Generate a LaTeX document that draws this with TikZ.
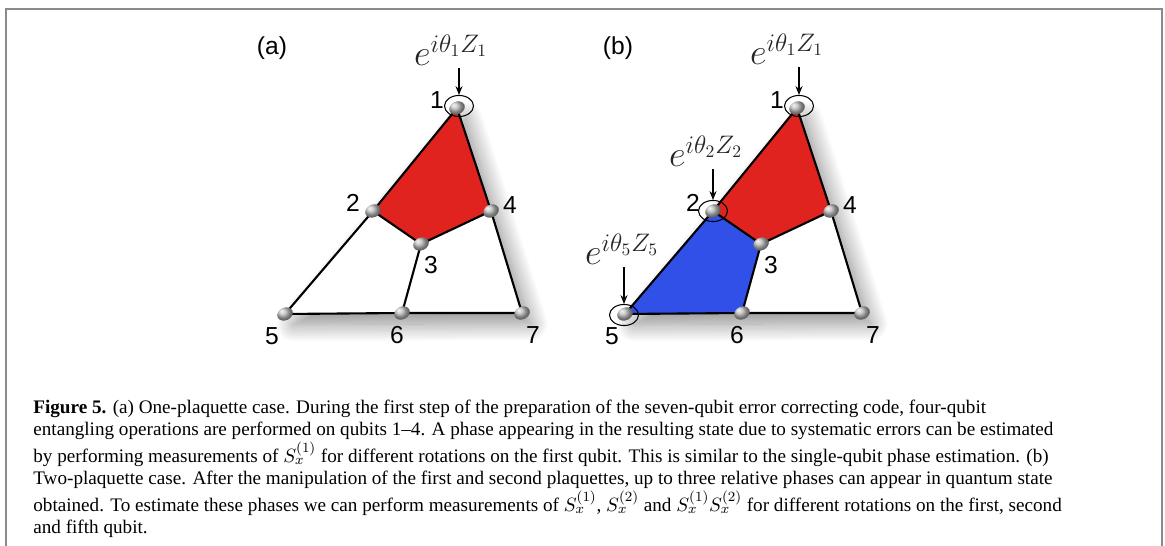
\documentclass[tikz,border=0pt]{standalone}
\usepackage{fontspec}
\setmainfont{Liberation Serif}
\setsansfont{Liberation Sans}
\usepackage{tikz}
\usetikzlibrary{shapes.geometric,arrows.meta,shadows.blur}
\definecolor{plaqred}{HTML}{E0231F}
\definecolor{plaqblue}{HTML}{3050E8}
\definecolor{framegray}{HTML}{8A8A8A}
\pgfdeclarelayer{background}
\pgfsetlayers{background,main}
\newcommand{\capfont}{\fontsize{10.9}{12.6}\selectfont}

\tikzset{
  qubit/.style={ellipse, minimum width=9.2pt, minimum height=7.2pt, inner sep=0pt, shading=ball, ball color=gray!55, rotate=25},
  ring/.style={draw, ellipse, minimum width=16.5pt, minimum height=12pt, inner sep=0pt, line width=0.6pt},
  num/.style={font=\sffamily\fontsize{14}{14}\selectfont, inner sep=0pt},
  phase/.style={font=\fontsize{20.5}{20.5}\selectfont, text=black!85, inner sep=1pt, anchor=south},
  edge/.style={line width=1.2pt, line join=round},
  pointer/.style={-{Stealth[length=5pt,width=4pt]}, line width=0.6pt},
  shade/.style={fill=white, blur shadow={shadow xshift=5pt, shadow yshift=-6pt, shadow blur radius=10pt, shadow blur steps=20, shadow opacity=45}},
}

\begin{document}
\begin{tikzpicture}[x=0.02cm, y=-0.02cm]
  \useasboundingbox (0,0) rectangle (1165,546);

  % Frame (open at the bottom)
  \draw[framegray, line width=1.2pt] (6,546) -- (6,9) -- (1162,9) -- (1162,546);

  % PANEL (a): one plaquette
  \node[num] (tagA) at (272,48) {(a)};
  \node[qubit] (a1) at (457,108) {};
  \node[qubit] (a2) at (373,211) {};
  \node[qubit] (a3) at (421,244) {};
  \node[qubit] (a4) at (491,211) {};
  \node[qubit] (a5) at (285,314) {};
  \node[qubit] (a6) at (402,313) {};
  \node[qubit] (a7) at (522,313) {};
  \node[num] (na1) at (437,100) {1};
  \node[num] (na2) at (353,203) {2};
  \node[num] (na3) at (431,265) {3};
  \node[num] (na4) at (510,205) {4};
  \node[num] (na5) at (272,336) {5};
  \node[num] (na6) at (397,335) {6};
  \node[num] (na7) at (533,335) {7};
  % rotation on qubit 1
  \node[ring] (ringA1) at (459,106) {};
  \node[phase] (phA1) at (451,68) {$e^{i\theta_1 Z_1}$};
  \draw[pointer] (phA1.south -| ringA1.north) -- (ringA1.north);

  \begin{pgfonlayer}{background}
    \path[shade] (a1.center) -- (a7.center) -- (a5.center) -- cycle;
    \fill[plaqred] (a1.center) -- (a2.center) -- (a3.center) -- (a4.center) -- cycle;
    \draw[edge] (a1.center) -- (a4.center) -- (a7.center) -- (a6.center) -- (a5.center) -- (a2.center) -- cycle;
    \draw[edge] (a2.center) -- (a3.center) -- (a4.center);
    \draw[edge] (a3.center) -- (a6.center);
  \end{pgfonlayer}

  % PANEL (b): two plaquettes
  \node[num] (tagB) at (618,48) {(b)};
  \node[qubit] (b1) at (797,108) {};
  \node[qubit] (b2) at (713,211) {};
  \node[qubit] (b3) at (761,244) {};
  \node[qubit] (b4) at (831,211) {};
  \node[qubit] (b5) at (625,314) {};
  \node[qubit] (b6) at (742,313) {};
  \node[qubit] (b7) at (862,313) {};
  \node[num] (nb1) at (777,100) {1};
  \node[num] (nb2) at (693,203) {2};
  \node[num] (nb3) at (771,265) {3};
  \node[num] (nb4) at (850,205) {4};
  \node[num] (nb5) at (612,336) {5};
  \node[num] (nb6) at (737,335) {6};
  \node[num] (nb7) at (873,335) {7};
  % rotations on qubits 1, 2 and 5
  \node[ring] (ringB1) at (799,106) {};
  \node[ring] (ringB2) at (713,211) {};
  \node[ring] (ringB5) at (624,315) {};
  \node[phase] (phB1) at (787,67) {$e^{i\theta_1 Z_1}$};
  \node[phase] (phB2) at (706,169) {$e^{i\theta_2 Z_2}$};
  \node[phase] (phB5) at (622,267) {$e^{i\theta_5 Z_5}$};
  \draw[pointer] (phB1.south -| ringB1.north) -- (ringB1.north);
  \draw[pointer] (phB2.south -| ringB2.north) -- (ringB2.north);
  \draw[pointer] (phB5.south -| ringB5.north) -- (ringB5.north);

  \begin{pgfonlayer}{background}
    \path[shade] (b1.center) -- (b7.center) -- (b5.center) -- cycle;
    \fill[plaqred] (b1.center) -- (b2.center) -- (b3.center) -- (b4.center) -- cycle;
    \fill[plaqblue] (b2.center) -- (b3.center) -- (b6.center) -- (b5.center) -- cycle;
    \draw[edge] (b1.center) -- (b4.center) -- (b7.center) -- (b6.center) -- (b5.center) -- (b2.center) -- cycle;
    \draw[edge] (b2.center) -- (b3.center) -- (b4.center);
    \draw[edge] (b3.center) -- (b6.center);
  \end{pgfonlayer}

  % Caption
  \node[anchor=north west, align=left, inner sep=0pt, font=\capfont] (caption) at (33,400) {%
    \textbf{Figure 5.} (a) One-plaquette case. During the first step of the preparation of the seven-qubit error correcting code, four-qubit\\
    entangling operations are performed on qubits 1--4. A phase appearing in the resulting state due to systematic errors can be estimated\\
    by performing measurements of $S_x^{(1)}$ for different rotations on the first qubit. This is similar to the single-qubit phase estimation. (b)\\
    Two-plaquette case. After the manipulation of the first and second plaquettes, up to three relative phases can appear in quantum state\\
    obtained. To estimate these phases we can perform measurements of $S_x^{(1)}$, $S_x^{(2)}$ and $S_x^{(1)}S_x^{(2)}$ for different rotations on the first, second\\
    and fifth qubit.};
\end{tikzpicture}
\end{document}
